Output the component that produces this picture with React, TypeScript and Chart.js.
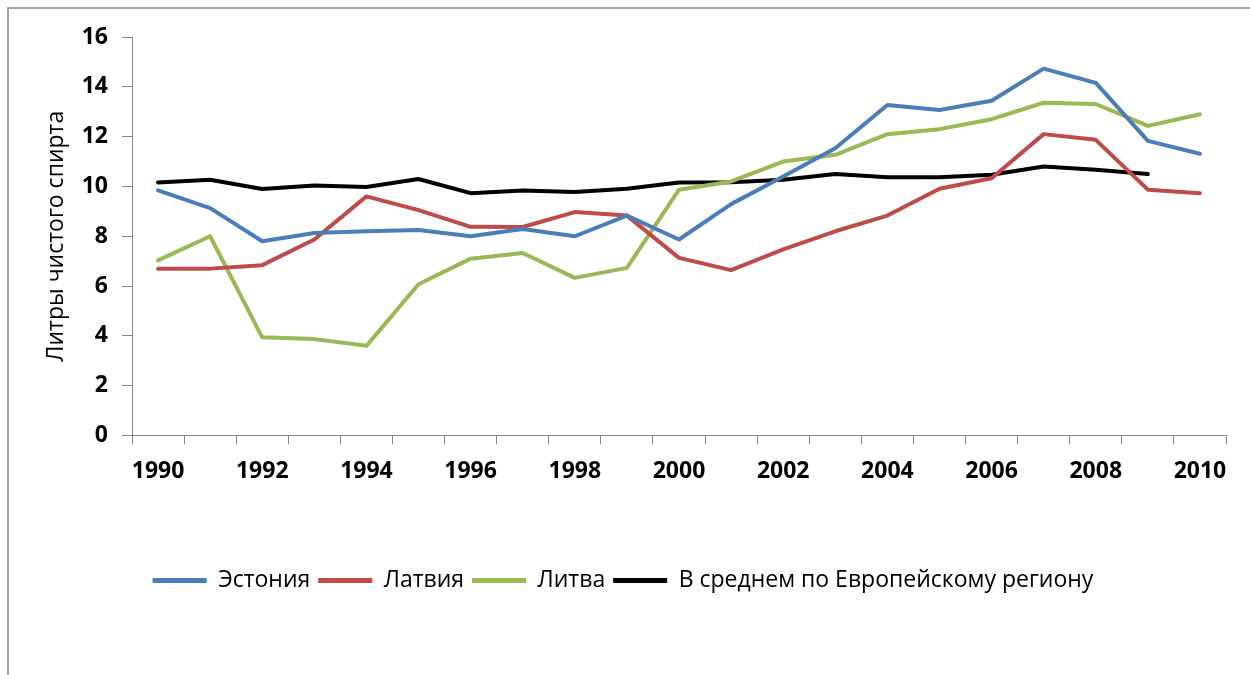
import React, { useEffect, useRef } from "react";
import { Chart, registerables } from "chart.js";

Chart.register(...registerables);

// Years on the category axis (labels are shown every second year)
const years = [
  "1990", "1991", "1992", "1993", "1994", "1995", "1996", "1997", "1998", "1999",
  "2000", "2001", "2002", "2003", "2004", "2005", "2006", "2007", "2008", "2009", "2010",
];

// Litres of pure alcohol per capita
const estonia = [9.84, 9.13, 7.8, 8.13, 8.2, 8.25, 8.0, 8.29, 8.0, 8.83, 7.87, 9.29, 10.4, 11.53, 13.27, 13.07, 13.44, 14.73, 14.16, 11.83, 11.31];
const latvia = [6.7, 6.7, 6.84, 7.87, 9.6, 9.05, 8.38, 8.37, 8.97, 8.83, 7.13, 6.64, 7.47, 8.2, 8.83, 9.91, 10.33, 12.1, 11.87, 9.87, 9.73];
const lithuania = [7.03, 8.0, 3.94, 3.87, 3.6, 6.07, 7.1, 7.33, 6.33, 6.73, 9.87, 10.2, 11.0, 11.27, 12.1, 12.3, 12.7, 13.36, 13.31, 12.43, 12.9];
const europeAvg = [10.16, 10.27, 9.9, 10.04, 9.98, 10.3, 9.73, 9.84, 9.78, 9.91, 10.16, 10.17, 10.27, 10.5, 10.37, 10.37, 10.47, 10.8, 10.67, 10.5, null];

const seriesNames = ["Эстония", "Латвия", "Литва", "В среднем по Европейскому региону"];
const seriesColors = ["#4A7EBB", "#BE4B48", "#98B954", "#000000"];

const yMin = 0;
const yMax = 16;
const yStep = 2;
const yTitle = "Литры чистого спирта";

const FONT = "'Open Sans', 'Noto Sans', sans-serif";
const AXIS_COLOR = "#868686";

export default function App() {
  const canvasRef = useRef<HTMLCanvasElement | null>(null);

  useEffect(() => {
    const canvas = canvasRef.current;
    if (!canvas) return;
    const values = [estonia, latvia, lithuania, europeAvg];

    const chart = new Chart(canvas, {
      type: "line",
      data: {
        labels: years,
        datasets: values.map((v, i) => ({
          label: seriesNames[i],
          data: v,
          borderColor: seriesColors[i],
          backgroundColor: seriesColors[i],
          borderWidth: 4,
          pointRadius: 0,
          pointHoverRadius: 0,
          tension: 0,
          fill: false,
          borderCapStyle: "round" as const,
          borderJoinStyle: "round" as const,
        })),
      },
      options: {
        responsive: false,
        animation: false,
        events: [],
        layout: {
          padding: { top: 37, left: 20, right: 24, bottom: 73 },
        },
        plugins: {
          tooltip: { enabled: false },
          legend: {
            display: true,
            position: "bottom",
            align: "center",
            labels: {
              boxWidth: 54,
              boxHeight: 5,
              padding: 8,
              color: "#000",
              font: { family: FONT, size: 23 },
              generateLabels: (c: any) =>
                Chart.defaults.plugins.legend.labels
                  .generateLabels(c)
                  .map((l: any) => ({ ...l, lineWidth: 0 })),
            },
          },
        },
        scales: {
          x: {
            type: "category",
            offset: true,
            grid: {
              offset: true,
              drawOnChartArea: false,
              drawTicks: true,
              tickLength: 9,
              color: AXIS_COLOR,
            },
            border: { color: AXIS_COLOR, width: 1 },
            ticks: {
              autoSkip: false,
              maxRotation: 0,
              minRotation: 0,
              padding: 13,
              color: "#000",
              font: { family: FONT, size: 23, weight: "bold" },
              callback: (_v: any, i: number) => (i % 2 === 0 ? years[i] : ""),
            },
            afterFit: (s: any) => {
              s.height = 125.5;
            },
          },
          y: {
            min: yMin,
            max: yMax,
            grid: {
              drawOnChartArea: false,
              drawTicks: true,
              tickLength: 10,
              color: AXIS_COLOR,
            },
            border: { color: AXIS_COLOR, width: 1 },
            ticks: {
              stepSize: yStep,
              padding: 14,
              color: "#000",
              font: { family: FONT, size: 23, weight: "bold" },
            },
            title: {
              display: true,
              text: yTitle,
              color: "#000",
              font: { family: FONT, size: 23 },
              padding: { top: 23, bottom: 0 },
            },
            afterFit: (s: any) => {
              s.width = 112;
            },
          },
        },
      },
    });

    return () => chart.destroy();
  }, []);

  return (
    <div style={{ position: "fixed", left: 0, top: 0, width: 1250, height: 675, background: "#fff" }}>
      <div
        style={{
          position: "absolute",
          left: 7,
          top: 7,
          width: 1250,
          height: 675,
          borderLeft: "2px solid #a4a4a4",
          borderTop: "2px solid #a4a4a4",
        }}
      />
      <canvas
        ref={canvasRef}
        width={1250}
        height={675}
        style={{ position: "absolute", left: 0, top: 0, width: 1250, height: 675 }}
      />
    </div>
  );
}
